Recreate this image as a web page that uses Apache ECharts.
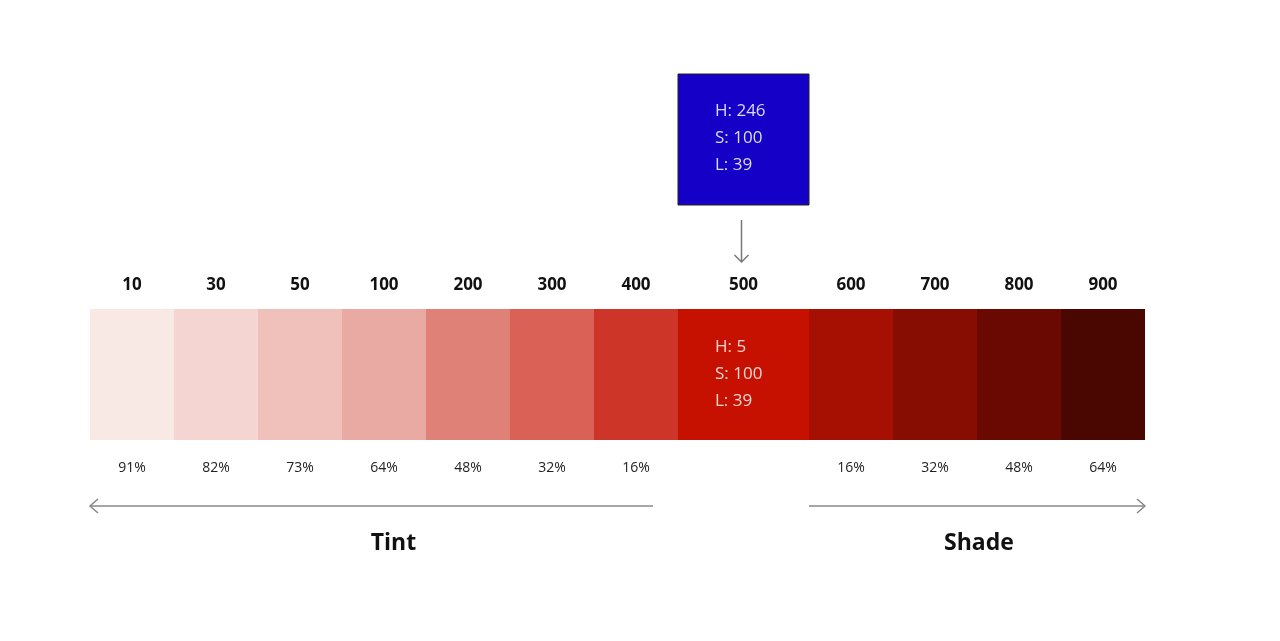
<!DOCTYPE html>
<html><head><meta charset="utf-8">
<script src="https://cdn.jsdelivr.net/npm/echarts@6/dist/echarts.min.js"></script>
<style>html,body{margin:0;background:#fff}#c{width:1280px;height:641px}</style>
</head><body><div id="c"></div>
<script>
const steps = ['10','30','50','100','200','300','400','500','600','700','800','900'];
const widths = [84,84,84,84,84,84,84,131,84,84,84,84];
const colors = ['#f8e9e5','#f5d5d1','#f0c0ba','#e9aaa3','#e08177','#da6155','#cd3529','#c71100','#a51003','#870d02','#690902','#4a0601'];
const pctLabels = ['91%','82%','73%','64%','48%','32%','16%','','16%','32%','48%','64%'];
const baseHSL = ['H: 5','S: 100','L: 39'];
const compHSL = ['H: 246','S: 100','L: 39'];
const compColor = '#1400c7';

let acc = 0;
const data = widths.map((w,i)=>{const s=acc; acc+=w; return [s, s+w, i];});
const total = acc;
const F = '"Open Sans", Inter, sans-serif';

const chart = echarts.init(document.getElementById('c'));
chart.setOption({
  animation:false,
  grid:{left:90, width:1055, top:309, height:131},
  xAxis:{type:'value', min:0, max:total, show:false},
  yAxis:{type:'value', min:0, max:1, show:false},
  series:[{
    type:'custom',
    data:data,
    renderItem:(params, api)=>{
      const i = api.value(2);
      const p0 = api.coord([api.value(0),1]);
      const p1 = api.coord([api.value(1),0]);
      const cx = (p0[0]+p1[0])/2;
      const ch = [
        {type:'rect', shape:{x:p0[0], y:p0[1], width:p1[0]-p0[0], height:p1[1]-p0[1]}, style:{fill:colors[i]}},
        {type:'text', x:cx, y:p0[1]-24, style:{text:steps[i], font:'bold 17px '+F, fill:'#111', align:'center', verticalAlign:'middle'}},
        {type:'text', x:cx, y:p1[1]+28, style:{text:pctLabels[i], font:'14px '+F, fill:'#222', align:'center', verticalAlign:'middle'}}
      ];
      if (steps[i]==='500') {
        baseHSL.forEach((t,k)=>ch.push({type:'text', x:p0[0]+37, y:p0[1]+38+27*k, style:{text:t, font:'17px '+F, fill:'#f3d6d2', verticalAlign:'middle'}}));
        // complementary swatch above
        ch.push({type:'rect', shape:{x:p0[0], y:p0[1]-235, width:p1[0]-p0[0], height:131}, style:{fill:compColor, stroke:'#222', lineWidth:1}});
        compHSL.forEach((t,k)=>ch.push({type:'text', x:p0[0]+37, y:p0[1]-198+27*k, style:{text:t, font:'17px '+F, fill:'#dcdcf3', verticalAlign:'middle'}}));
        ch.push({type:'line', shape:{x1:cx-2, y1:p0[1]-89, x2:cx-2, y2:p0[1]-47}, style:{stroke:'#777', lineWidth:1.5}});
        ch.push({type:'polyline', shape:{points:[[cx-9,p0[1]-54],[cx-2,p0[1]-47],[cx+5,p0[1]-54]]}, style:{stroke:'#777', lineWidth:1.5, fill:null}});
        // tint arrow
        const left = api.coord([0,0])[0], right = api.coord([total,0])[0];
        const ay = p1[1]+66;
        ch.push({type:'line', shape:{x1:left, y1:ay, x2:p0[0]-25, y2:ay}, style:{stroke:'#888', lineWidth:1.5}});
        ch.push({type:'polyline', shape:{points:[[left+8,ay-7],[left,ay],[left+8,ay+7]]}, style:{stroke:'#888', lineWidth:1.5, fill:null}});
        ch.push({type:'line', shape:{x1:p1[0], y1:ay, x2:right, y2:ay}, style:{stroke:'#888', lineWidth:1.5}});
        ch.push({type:'polyline', shape:{points:[[right-8,ay-7],[right,ay],[right-8,ay+7]]}, style:{stroke:'#888', lineWidth:1.5, fill:null}});
        ch.push({type:'text', x:(left+p0[0]-25)/2+22, y:ay+37, style:{text:'Tint', font:'bold 23px '+F, fill:'#111', align:'center', verticalAlign:'middle'}});
        ch.push({type:'text', x:(p1[0]+right)/2+2, y:ay+37, style:{text:'Shade', font:'bold 23px '+F, fill:'#111', align:'center', verticalAlign:'middle'}});
      }
      return {type:'group', children:ch};
    }
  }]
});
</script></body></html>
